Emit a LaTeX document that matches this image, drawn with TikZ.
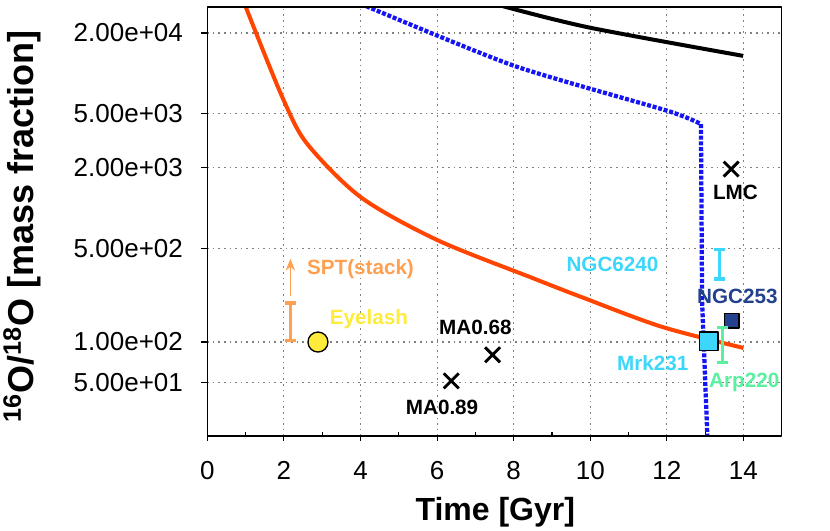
\documentclass[tikz,border=0pt]{standalone}
\usepackage{fontspec}
\setmainfont{Liberation Sans}
\usepackage{tikz}
\usetikzlibrary{arrows.meta,shapes.misc,calc}
\definecolor{redline}{RGB}{255,69,0}
\definecolor{blueline}{RGB}{20,20,245}
\definecolor{sptcol}{RGB}{255,160,80}
\definecolor{eyecol}{RGB}{255,235,60}
\definecolor{cyancol}{RGB}{60,215,250}
\definecolor{navycol}{RGB}{35,65,140}
\definecolor{arpcol}{RGB}{90,240,160}
\tikzset{
  lab/.style={font=\bfseries\fontsize{15.5}{16}\selectfont,inner sep=0pt},
  ticklab/.style={font=\fontsize{19.5}{20}\selectfont,inner sep=0pt},
  xmark/.style={cross out,draw=black,line width=2.2pt,minimum size=9pt,inner sep=0pt},
  errbar/.style={line width=2.4pt,{Bar[width=8pt]}-{Bar[width=8pt]}},
  gridline/.style={gray,line width=0.8pt,dash pattern=on 1.2pt off 3pt}
}
\begin{document}
\begin{tikzpicture}[line cap=butt,line join=round,x=28.725pt,y=100.725pt]
\useasboundingbox (-5.413,-0.707) rectangle (16.26,3.246);
% grid
\foreach \gx in {2,4,...,14} \draw[gridline] (\gx,0) -- (\gx,3.194);
\foreach \gy in {0.398,0.699,1.398,2.0,2.398,3.0} \draw[gridline] (0,\gy) -- (15,\gy);
% y ticks and labels
\foreach \gy/\txt in {0.398/5.00e+01,0.699/1.00e+02,1.398/5.00e+02,2.0/2.00e+03,2.398/5.00e+03,3.0/2.00e+04}{
  \draw[line width=0.8pt] (0,\gy) -- ++(-5pt,0);
  \node[ticklab,anchor=east] at (-0.63,\gy) {\txt};
}
% x ticks and labels
\foreach \gx in {0,2,...,14}{
  \draw[line width=0.8pt] (\gx,0) -- ++(0,-4pt);
  \node[ticklab] at (\gx,-0.26) {\gx};
}
\foreach \gx in {1,3,...,13} \draw[line width=0.8pt] (\gx,0) -- ++(0,3pt);
% axis labels
\node[font=\bfseries\fontsize{24}{26}\selectfont] (xlabel) at (7.52,-0.566) {Time [Gyr]};
\node[font=\bfseries\fontsize{27}{29}\selectfont,rotate=90] (ylabel) at (-4.84,1.56) {$^{\mathbf{16}}$O/$^{\mathbf{18}}$O [mass fraction]};
% model curves
\begin{scope}
\clip (0,0) rectangle (15,3.194);
\draw[redline,line width=3pt] plot[smooth,tension=0.5] coordinates {(0.93,3.25) (1.25,3.017) (2,2.496) (2.61,2.174) (4.01,1.777) (6,1.459) (8.48,1.177) (9.77,1.034) (11.85,0.814) (14,0.655)};
\draw[black,line width=3pt] plot[smooth] coordinates {(7.72,3.2) (9.99,3.04) (13.99,2.83)};
\draw[blueline,line width=3.2pt,dash pattern=on 3pt off 1.3pt] plot[smooth,tension=0.4] coordinates {(4.15,3.2) (8,2.757) (12,2.422) (12.89,2.323)} -- (12.92,1.0) -- (13.06,-0.02);
\end{scope}
% data points
\draw[sptcol,errbar] (2.17,0.699) -- (2.17,1.002);
\draw[sptcol,line width=1.2pt,-{Stealth[length=9pt,width=7pt]}] (2.17,1.04) -- (2.17,1.32);
\node[lab,text=sptcol] (spt) at (4.0,1.244) {SPT(stack)};
\node[circle,draw=black,line width=1pt,fill=eyecol,minimum size=15pt,inner sep=0pt] (eyelash) at (2.89,0.699) {};
\node[lab,text=eyecol] (eyelab) at (4.22,0.873) {Eyelash};
\node[xmark] (ma68) at (7.45,0.604) {};
\node[lab] (ma68lab) at (7.0,0.811) {MA0.68};
\node[xmark] (ma89) at (6.37,0.41) {};
\node[lab] (ma89lab) at (6.13,0.211) {MA0.89};
\node[xmark] (lmc) at (13.68,1.987) {};
\node[lab] (lmclab) at (13.79,1.81) {LMC};
\draw[cyancol,errbar] (13.37,1.156) -- (13.37,1.398);
\node[lab,text=cyancol] (n6240lab) at (10.58,1.278) {NGC6240};
\node[rectangle,draw=black,line width=1pt,fill=navycol,minimum size=11pt,inner sep=0pt] (n253) at (13.69,0.858) {};
\node[lab,text=navycol] (n253lab) at (13.84,1.039) {NGC253};
\node[rectangle,draw=black,line width=1pt,fill=cyancol,minimum size=14pt,inner sep=0pt] (mrk) at (13.09,0.704) {};
\node[lab,text=cyancol] (mrklab) at (11.63,0.545) {Mrk231};
\draw[arpcol,errbar] (13.45,0.533) -- (13.45,0.819);
\node[lab,text=arpcol] (arplab) at (14.02,0.40) {Arp220};
% frame
\draw[line width=0.9pt] (0,0) rectangle (15,3.194);
\end{tikzpicture}
\end{document}
